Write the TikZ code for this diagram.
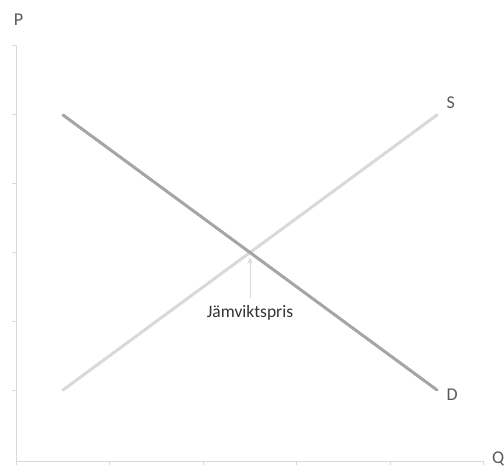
\documentclass[tikz,border=0pt]{standalone}
\usepackage{fontspec}
\setmainfont{Carlito}
\usetikzlibrary{
    arrows.meta,
    positioning
}
\definecolor{axisgray}{HTML}{D9D9D9}
\definecolor{demandgray}{HTML}{A5A5A5}
\definecolor{supplygray}{HTML}{D9D9D9}
\definecolor{labelgray}{HTML}{595959}

\begin{document}
\begin{tikzpicture}[
    x=1pt,
    y=-1pt,
    axis/.style={
        draw=axisgray,
        line width=1pt
    },
    curve/.style={
        line width=3pt,
        line cap=round
    },
    axislabel/.style={
        text=labelgray,
        font=\fontsize{18}{21}\selectfont,
        anchor=base,
        inner sep=0pt
    },
    pointer/.style={
        -{Stealth[length=6pt,width=5pt]},
        draw=axisgray,
        line width=1pt
    }
]

\useasboundingbox (0,0) rectangle (504,467);

% axes

\coordinate (origin) at (16,461);
\coordinate (ytop) at (16,45);
\coordinate (xend) at (483,461);

\draw[axis] (ytop) -- (origin) -- (xend);

\foreach \ty in {45,114,183,252,321,390}
    \draw[axis] (12,\ty) -- (16,\ty);

\foreach \tx in {16,109.5,203,296.5,390,483}
    \draw[axis] (\tx,461) -- (\tx,465);

\node[axislabel] (plabel) at (18.5,25) {P};
\node[axislabel, anchor=base west] (qlabel) at (492,463.5) {Q};

% demand and supply

\coordinate (dstart) at (63,115);
\coordinate (dend) at (437,390);
\coordinate (sstart) at (63,390);
\coordinate (send) at (437,115);
\coordinate (equilibrium) at (250,252.5);

\draw[curve, draw=supplygray] (sstart) -- (send);
\draw[curve, draw=demandgray] (dstart) -- (dend);

\node[axislabel] (slabel) at (450.8,108.3) {S};
\node[axislabel] (dlabel) at (452.2,400.7) {D};

% equilibrium price

\node[
    text=black!80,
    font=\fontsize{17.5}{20}\selectfont,
    anchor=base,
    inner sep=0pt
] (price) at (250,317.3) {Jämviktspris};

\draw[pointer, shorten <=7pt, shorten >=5pt] (price.north) -- (equilibrium);

\end{tikzpicture}
\end{document}
